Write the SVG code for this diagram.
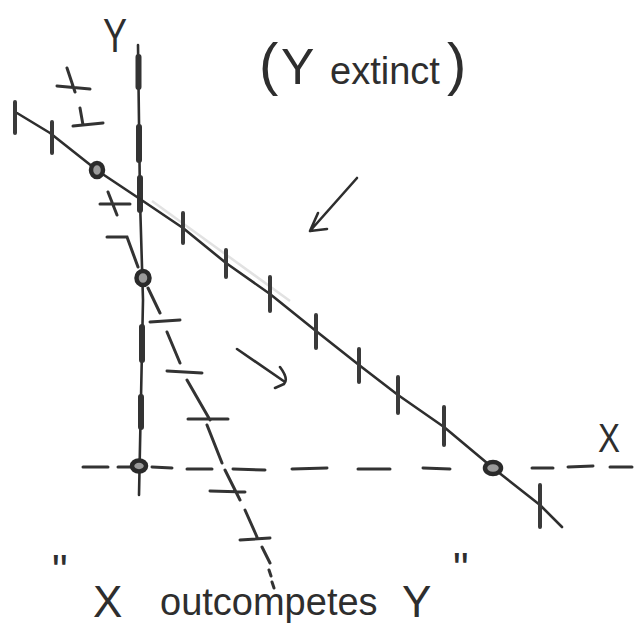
<svg xmlns="http://www.w3.org/2000/svg" width="637" height="634" viewBox="0 0 637 634">
<style>
.ln{fill:none;stroke:#2e2e2e;stroke-width:2.6;stroke-linecap:round;stroke-linejoin:round}
.tk{fill:none;stroke:#3a3a3a;stroke-width:4;stroke-linecap:round}
.thk{fill:none;stroke:#333;stroke-width:6;stroke-linecap:round}
.dash{fill:none;stroke:#333;stroke-width:3;stroke-linecap:round}
.eq{fill:#9a9a9a;stroke:#2a2a2a;stroke-width:4.5}
.txt{font-family:"Liberation Sans","DejaVu Sans",sans-serif;fill:#2e2e2e}
</style>
<rect width="637" height="634" fill="#ffffff"/>

<g id="y-axis">
<polyline class="ln" points="138,45 140,200 143,300 139,495"/>
<path class="thk" d="M138.5,57V87M139,127V160M140,178V210M142,327V360M141,397V427"/>
</g>

<g id="x-nullcline">
<polyline points="152,201 290,301" fill="none" stroke="#e2e2e2" stroke-width="2.5"/>
<polyline class="ln" points="17,113 50,133 98,171 140,199 183,228 226,263 270,294 316,331 359,365 398,395 444,427 493,468 540,505 562,527"/>
<path class="tk" d="M15,102V133M52,122V153M183,213V243M226,250V277M270,277V311M316,315V348M359,349V382M398,377V413M444,407V445M540,485V527"/>
</g>

<g id="x-axis-dashed">
<path class="dash" d="M83,467H108M118,467H131M152,467L172,468M187,469H212M233,469L265,470M292,469L327,468M358,469H390M423,468L450,469M532,468H553M568,467L593,466M610,467H632"/>
</g>

<g id="y-nullcline">
<path class="dash" d="M67,68L75,92M57,86L90,89M80,108L83,125M73,126L103,123M108,192L117,215M100,204H130M107,237H127L138,267M148,288L160,313M150,322L180,320M167,332L180,363M167,371L202,373M187,380L210,420M188,419H228M207,425L222,463M225,470L240,500M210,491L245,492M245,510L257,537M240,540L270,538M262,547L270,563M269,570L271,576M272,582L274,588"/>
</g>

<g id="equilibria">
<ellipse class="eq" cx="97" cy="170" rx="6" ry="7"/>
<ellipse class="eq" cx="143" cy="278" rx="6.5" ry="7"/>
<ellipse class="eq" cx="139" cy="466" rx="7" ry="5.5"/>
<ellipse class="eq" cx="493" cy="468" rx="8" ry="6"/>
</g>

<g id="arrows">
<path class="ln" d="M357,178L310,231M318,213L310,231L327,229"/>
<path class="ln" d="M237,349L285,382M280,367Q289,379 284,384L275,388"/>
</g>

<g id="labels">
<text class="txt" x="103" y="52" font-size="48" textLength="24" lengthAdjust="spacingAndGlyphs">Y</text>
<text class="txt" x="598" y="452" font-size="40" textLength="22" lengthAdjust="spacingAndGlyphs">X</text>
<text class="txt" y="84"><tspan x="259" font-size="58">(</tspan><tspan x="281" font-size="50">Y</tspan><tspan x="330" font-size="38">extinct</tspan><tspan x="447" font-size="58">)</tspan></text>
<text class="txt"><tspan x="52" y="586" font-size="44">"</tspan><tspan x="93" y="617" font-size="44">X</tspan><tspan x="160" y="615" font-size="38">outcompetes</tspan><tspan x="402" y="617" font-size="44">Y</tspan><tspan x="453" y="584" font-size="44">"</tspan></text>
</g>
</svg>
